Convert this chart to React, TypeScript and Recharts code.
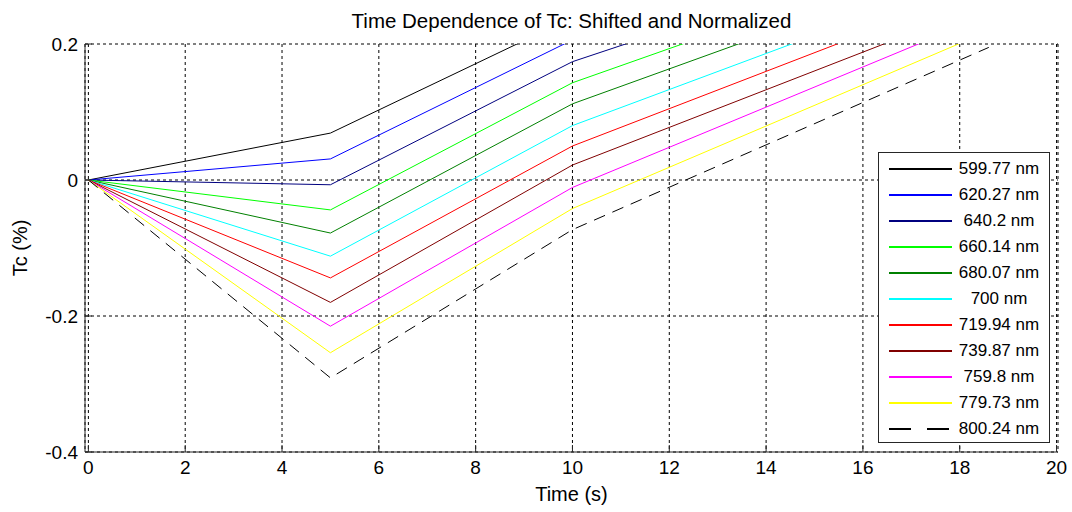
import { CartesianGrid, Label, Legend, Line, LineChart, XAxis, YAxis } from "recharts";

// sample times (s) and normalized Tc (%) per wavelength
const times = [0, 5, 10, 18.6];

const wavelengths = [
  "599.77 nm",
  "620.27 nm",
  "640.2 nm",
  "660.14 nm",
  "680.07 nm",
  "700 nm",
  "719.94 nm",
  "739.87 nm",
  "759.8 nm",
  "779.73 nm",
  "800.24 nm",
];

const tc600 = [0, 0.069, 0.239, 0.445];
const tc620 = [0, 0.031, 0.206, 0.412];
const tc640 = [0, -0.007, 0.174, 0.378];
const tc660 = [0, -0.044, 0.143, 0.359];
const tc680 = [0, -0.078, 0.112, 0.333];
const tc700 = [0, -0.112, 0.08, 0.308];
const tc720 = [0, -0.144, 0.05, 0.286];
const tc740 = [0, -0.18, 0.022, 0.26];
const tc760 = [0, -0.215, -0.011, 0.243];
const tc780 = [0, -0.254, -0.042, 0.219];
const tc800 = [0, -0.291, -0.073, 0.195];

const seriesValues = [tc600, tc620, tc640, tc660, tc680, tc700, tc720, tc740, tc760, tc780, tc800];

const colors = [
  "#000000",
  "#0000ff",
  "#00007f",
  "#00ff00",
  "#008000",
  "#00ffff",
  "#ff0000",
  "#800000",
  "#ff00ff",
  "#ffff00",
  "#000000",
];

const xTicks = [0, 2, 4, 6, 8, 10, 12, 14, 16, 18, 20];
const yTicks = [-0.4, -0.2, 0, 0.2];

const data = times.map((t, i) => {
  const row: Record<string, number> = { t };
  seriesValues.forEach((vals, k) => {
    row[`s${k}`] = vals[i];
  });
  return row;
});

const FONT = '"Liberation Sans", Arial, Helvetica, sans-serif';
const DASH = "12 8";
const frame = "#262626";

function MatlabLegend() {
  return (
    <div
      style={{
        width: 170,
        height: 286,
        paddingTop: 3,
        border: `1px solid ${frame}`,
        background: "#fff",
        fontFamily: FONT,
      }}
    >
      {wavelengths.map((w, k) => (
        <div key={w} style={{ display: "flex", alignItems: "center", height: 26 }}>
          <svg width={77} height={26} style={{ display: "block", flex: "none" }}>
            <line
              x1={10}
              x2={73}
              y1={13}
              y2={13}
              stroke={colors[k]}
              strokeWidth={1.2}
              shapeRendering="crispEdges"
              strokeDasharray={k === 10 ? "22 16" : undefined}
            />
          </svg>
          <span style={{ width: 86, flex: "none", textAlign: "center", fontSize: 17, color: "#000" }}>{w}</span>
        </div>
      ))}
    </div>
  );
}

export default function App() {
  return (
    <div style={{ position: "absolute", left: 0, top: 0, width: 1072, height: 512, background: "#fff", fontFamily: FONT }}>
      <div
        style={{
          position: "absolute",
          left: 85,
          width: 973,
          top: 10,
          textAlign: "center",
          fontSize: 20.5,
          lineHeight: "21px",
          color: "#000",
        }}
      >
        Time Dependence of Tc: Shifted and Normalized
      </div>
      <LineChart width={1072} height={512} data={data} margin={{ top: 44, right: 14, bottom: 0, left: 0 }}>
        <CartesianGrid stroke="#000" strokeDasharray="3 3" />
        <XAxis
          dataKey="t"
          type="number"
          domain={[-0.07, 20.03]}
          ticks={xTicks}
          height={60}
          stroke={frame}
          tickSize={-7}
          tickMargin={16}
          tick={{ fill: "#000", fontSize: 19, fontFamily: FONT }}
        >
          <Label value="Time (s)" position="insideBottom" offset={11} fill="#000" fontSize={20} fontFamily={FONT} />
        </XAxis>
        <XAxis
          xAxisId="top"
          orientation="top"
          type="number"
          domain={[-0.07, 20.03]}
          ticks={xTicks}
          height={0}
          mirror
          stroke={frame}
          tickSize={7}
          tick={false}
        />
        <YAxis
          type="number"
          domain={[-0.4, 0.2]}
          ticks={yTicks}
          allowDataOverflow
          width={85}
          stroke={frame}
          tickSize={-7}
          tickMargin={14}
          tickFormatter={(v: number) => String(Math.round(v * 10) / 10)}
          tick={{ fill: "#000", fontSize: 19, fontFamily: FONT }}
        >
          <Label
            content={({ viewBox }: any) => {
              const cy = viewBox.y + viewBox.height / 2;
              return (
                <text
                  x={20}
                  y={cy}
                  transform={`rotate(-90, 20, ${cy})`}
                  textAnchor="middle"
                  dominantBaseline="central"
                  fill="#000"
                  fontSize={20}
                  fontFamily={FONT}
                >
                  Tc (%)
                </text>
              );
            }}
          />
        </YAxis>
        <YAxis
          yAxisId="right"
          orientation="right"
          type="number"
          domain={[-0.4, 0.2]}
          ticks={yTicks}
          width={0}
          mirror
          stroke={frame}
          tickSize={7}
          tick={false}
        />
        <Legend
          layout="vertical"
          align="center"
          verticalAlign="middle"
          content={() => <MatlabLegend />}
          wrapperStyle={{ position: "absolute", left: 878, top: 152, width: 172, height: 291 }}
        />
        {seriesValues.map((_, k) => (
          <Line
            key={wavelengths[k]}
            name={wavelengths[k]}
            dataKey={`s${k}`}
            type="linear"
            stroke={colors[k]}
            strokeWidth={1}
            strokeDasharray={k === 10 ? DASH : undefined}
            dot={false}
            activeDot={false}
            isAnimationActive={false}
          />
        ))}
      </LineChart>
    </div>
  );
}
